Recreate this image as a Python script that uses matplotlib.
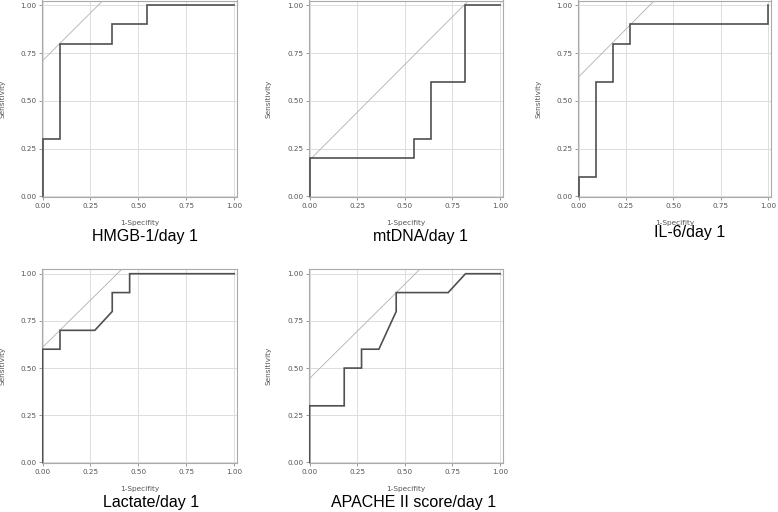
import matplotlib
matplotlib.use("Agg")
import matplotlib.pyplot as plt
import numpy as np

# ---- data (1-specificity, sensitivity) ----
titles = ["HMGB-1/day 1", "mtDNA/day 1", "IL-6/day 1", "Lactate/day 1", "APACHE II score/day 1"]

hmgb_fpr = [0, 0, 1/11, 1/11, 4/11, 4/11, 6/11, 6/11, 1]
hmgb_tpr = [0, 0.3, 0.3, 0.8, 0.8, 0.9, 0.9, 1.0, 1.0]

mtdna_fpr = [0, 0, 6/11, 6/11, 7/11, 7/11, 9/11, 9/11, 1]
mtdna_tpr = [0, 0.2, 0.2, 0.3, 0.3, 0.6, 0.6, 1.0, 1.0]

il6_fpr = [0, 0, 1/11, 1/11, 2/11, 2/11, 3/11, 3/11, 1, 1]
il6_tpr = [0, 0.1, 0.1, 0.6, 0.6, 0.8, 0.8, 0.9, 0.9, 1.0]

lact_fpr = [0, 0, 1/11, 1/11, 3/11, 4/11, 4/11, 5/11, 5/11, 1]
lact_tpr = [0, 0.6, 0.6, 0.7, 0.7, 0.8, 0.9, 0.9, 1.0, 1.0]

apache_fpr = [0, 0, 2/11, 2/11, 3/11, 3/11, 4/11, 5/11, 5/11, 8/11, 9/11, 1]
apache_tpr = [0, 0.3, 0.3, 0.5, 0.5, 0.6, 0.6, 0.8, 0.9, 0.9, 1.0, 1.0]

# intercepts of the slope-1 tangent lines
tangent_intercepts = [0.71, 0.19, 0.625, 0.61, 0.445]

series = [(hmgb_fpr, hmgb_tpr), (mtdna_fpr, mtdna_tpr), (il6_fpr, il6_tpr),
          (lact_fpr, lact_tpr), (apache_fpr, apache_tpr)]

ticks = [0.0, 0.25, 0.5, 0.75, 1.0]
tick_labels = ["0.00", "0.25", "0.50", "0.75", "1.00"]

# ---- layout (pixels: left, top, width, height) ----
W, H = 778, 512
boxes = [(42, 0.5, 195, 196.5), (309, 0.5, 194, 196.5), (578, 0.5, 193, 196.5),
         (42, 269, 195, 194), (309, 269, 194, 194)]
title_pos = [(145, 236), (420, 236), (689.5, 232), (151, 503), (413.5, 502)]

fig = plt.figure(figsize=(W / 100, H / 100), dpi=100)
fig.patch.set_facecolor("white")

tick_font = dict(family="DejaVu Sans", size=5.2)

for i, ((fx, ty), (l, t, w, h)) in enumerate(zip(series, boxes)):
    ax = fig.add_axes([l / W, 1 - (t + h) / H, w / W, h / H])
    ax.set_xlim(-0.003, 1.015)
    ax.set_ylim(-0.003, 1.025)
    ax.set_xticks(ticks)
    ax.set_yticks(ticks)
    ax.set_xticklabels(tick_labels, **tick_font)
    ax.set_yticklabels(tick_labels, **tick_font)
    ax.tick_params(colors="#888888", labelcolor="#555555", length=2, width=0.6, pad=2.2)
    ax.grid(True, color="#dddddd", linewidth=0.7)
    ax.set_axisbelow(True)
    for s in ax.spines.values():
        s.set_color("#aaaaaa")
        s.set_linewidth(0.8)
    b = tangent_intercepts[i]
    xs = np.array([0.0, 1.1 - b])
    ax.plot(xs, b + xs, color="#b0b0b0", linewidth=0.6, zorder=2)
    ax.plot(fx, ty, color="#505050", linewidth=1.2, zorder=3, solid_joinstyle="miter")
    ax.set_xlabel("1-Specifity", fontsize=5.3, family="DejaVu Sans", color="#555555")
    ax.set_ylabel("Sensitivity", fontsize=5.3, family="DejaVu Sans", color="#555555")
    ax.xaxis.set_label_coords(0.5, -22.5 / h)
    ax.yaxis.set_label_coords(-37.0 / w, 0.5)
    tx, tyy = title_pos[i]
    fig.text(tx / W, 1 - tyy / H, titles[i], ha="center", va="center",
             family="Liberation Sans", fontsize=11.5, color="black")

fig.savefig("out.png", dpi=100, facecolor="white")
